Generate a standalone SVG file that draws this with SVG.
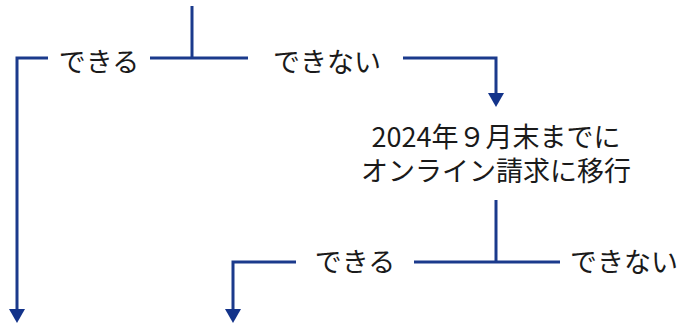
<svg xmlns="http://www.w3.org/2000/svg" width="678" height="323" viewBox="0 0 678 323">
<style>
.t{font-family:"Noto Sans CJK JP","Noto Sans",sans-serif;font-size:27px;fill:#1a1a1a;text-anchor:middle}
.c{fill:none;stroke:#1b3a8c;stroke-width:3}
</style>
<defs>
<marker id="ah" markerUnits="userSpaceOnUse" markerWidth="16" markerHeight="16" viewBox="0 0 14 16" refX="0" refY="8" orient="auto">
<path d="M0,0 L14,8 L0,16 z" fill="#13338a"/>
</marker>
</defs>
<rect width="678" height="323" fill="#fff"/>
<g id="connectors">
<path class="c" d="M192,6 V58"/>
<path class="c" d="M150,58 H248"/>
<path class="c" d="M48,58 H17 V309" marker-end="url(#ah)"/>
<path class="c" d="M403,58 H496 V93" marker-end="url(#ah)"/>
<path class="c" d="M496,200 V262"/>
<path class="c" d="M414,262 H560"/>
<path class="c" d="M296,262 H233 V309" marker-end="url(#ah)"/>
</g>
<g id="yes1"><text class="t" x="99" y="72">できる</text></g>
<g id="no1"><text class="t" x="327" y="72">できない</text></g>
<g id="migrate"><text class="t" x="496" y="147">2024年９月末までに</text><text class="t" x="496" y="181">オンライン請求に移行</text></g>
<g id="yes2"><text class="t" x="355" y="272">できる</text></g>
<g id="no2"><text class="t" x="624" y="272">できない</text></g>
</svg>
